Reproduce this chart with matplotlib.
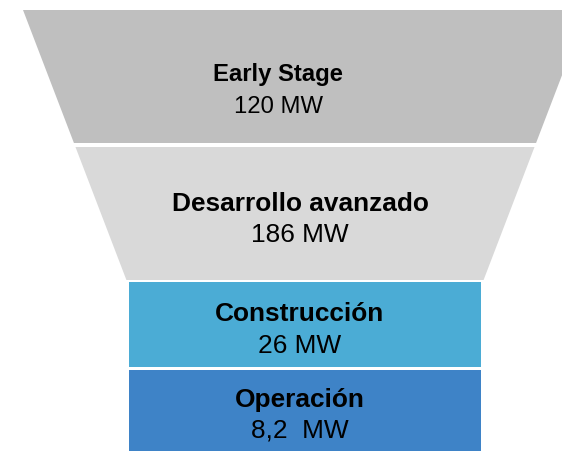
import matplotlib
matplotlib.use("Agg")
import matplotlib.pyplot as plt
from matplotlib.patches import Polygon

# ---- data ----
stages = ["Early Stage", "Desarrollo avanzado", "Construcción", "Operación"]
values = ["120 MW", "186 MW", "26 MW", "8,2  MW"]
colors = ["#BFBFBF", "#D9D9D9", "#4BACD5", "#3E83C7"]

plt.rcParams['font.family'] = ['Liberation Sans', 'DejaVu Sans']

W, H = 562, 452
fig = plt.figure(figsize=(W / 100, H / 100), dpi=100)
ax = fig.add_axes([0, 0, 1, 1])
ax.set_xlim(0, W)
ax.set_ylim(H, 0)
ax.axis('off')

cx = 305.0
def left_edge(y):
    return 23 + 0.383 * (y - 11)

# band vertical extents (layout)
bands = [(11, 144), (148, 281), (283, 368), (371, 470)]
rect_half = 176
shapes = []
for i, (y0, y1) in enumerate(bands):
    if i < 2:
        l0, l1 = left_edge(y0), left_edge(y1)
        pts = [(l0, y0), (2 * cx - l0, y0), (2 * cx - l1, y1), (l1, y1)]
    else:
        pts = [(cx - rect_half, y0), (cx + rect_half, y0),
               (cx + rect_half, y1), (cx - rect_half, y1)]
    ax.add_patch(Polygon(pts, closed=True, facecolor=colors[i], edgecolor='none'))

# text positions (layout)
text_x = [278, 300, 300, 300]
title_y = [81, 211, 321, 407]
value_y = [113, 242, 353, 438]
title_fs = [17.2, 18.9, 18.9, 18.9]
for i in range(4):
    ax.text(text_x[i], title_y[i], stages[i], ha='center', va='baseline',
            fontsize=title_fs[i], fontweight='bold', color='black')
    ax.text(text_x[i], value_y[i], values[i], ha='center', va='baseline',
            fontsize=title_fs[i], color='black')

fig.savefig("out.png", dpi=100)
